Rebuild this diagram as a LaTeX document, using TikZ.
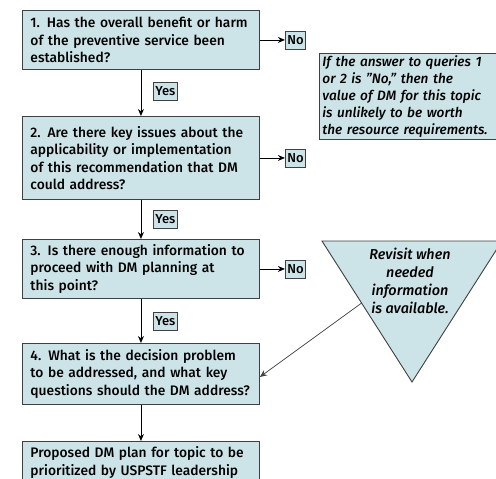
\documentclass[tikz,border=0pt]{standalone}
\usepackage{fontspec}
\setmainfont{Fira Sans Medium}[ItalicFont={Fira Sans Medium Italic}]
\usetikzlibrary{arrows.meta,calc}
\definecolor{boxfill}{HTML}{CCE3E8}
\definecolor{boxline}{HTML}{404040}
\begin{document}
\begin{tikzpicture}[x=1pt,y=-1pt,
  qbox/.style={draw=boxline, fill=boxfill, line width=0.9pt, anchor=north west,
    minimum width=237pt, text width=221pt, align=left, inner xsep=8pt, inner ysep=0pt,
    font=\fontsize{13.8}{17.5}\selectfont},
  lab/.style={draw=boxline, fill=boxfill, line width=0.8pt, inner xsep=2pt, inner ysep=1.5pt,
    minimum height=18pt, font=\fontsize{13}{15}\selectfont},
  arr/.style={draw=black, line width=0.9pt, -{Stealth[length=7pt,width=6pt]}},
  notebox/.style={draw=boxline, fill=boxfill, line width=0.9pt, anchor=north west,
    minimum width=200pt, minimum height=86pt, text width=194pt, align=left,
    inner xsep=3pt, inner ysep=0pt, font=\itshape\fontsize{13.6}{17}\selectfont},
  tribox/.style={draw=boxline, fill=boxfill, line width=0.9pt},
  tritext/.style={align=center, inner sep=0pt, font=\itshape\fontsize{14.4}{18}\selectfont}
]
\useasboundingbox (0,0) rectangle (496,479);
\fill[white] (0,0) rectangle (496,479);

\node[qbox, minimum height=59pt] (q1) at (22,10)
  {1. Has the overall benefit or harm\\of the preventive service been\\established?};
\node[qbox, minimum height=83pt] (q2) at (22,116)
  {2. Are there key issues about the\\applicability or implementation\\of this recommendation that DM\\could address?};
\node[qbox, minimum height=59pt] (q3) at (22,239)
  {3. Is there enough information to\\proceed with DM planning at\\this point?};
\node[qbox, minimum height=61pt] (q4) at (22,343)
  {4. What is the decision problem\\to be addressed, and what key\\questions should the DM address?};
\node[qbox, minimum height=42pt] (q5) at (22,441)
  {Proposed DM plan for topic to be\\prioritized by USPSTF leadership};

\node[lab, anchor=north west] (y1) at (153,82) {Yes};
\node[lab, anchor=north west] (y2) at (153,210) {Yes};
\node[lab, anchor=north west] (y3) at (153,312) {Yes};

\node[lab, anchor=west] (n1) at ([xshift=25pt]q1.east) {No};
\node[lab, anchor=west] (n2) at ([xshift=25pt]q2.east) {No};
\node[lab, anchor=west] (n3) at ([xshift=25pt]q3.east) {No};

\draw[arr] (q1.south) -- (q2.north);
\draw[arr] (q2.south) -- (q3.north);
\draw[arr] (q3.south) -- (q4.north);
\draw[arr] (q4.south) -- (q5.north);
\draw[arr] (q1.east) -- (n1.west);
\draw[arr] (q2.east) -- (n2.west);
\draw[arr] (q3.east) -- (n3.west);

\node[notebox] (note) at (319,53)
  {If the answer to queries 1\\or 2 is \symbol{34}No,\symbol{34} then the\\value of DM for this topic\\is unlikely to be worth\\the resource requirements.};

\coordinate (tl) at (322,241);
\coordinate (tr) at (502,241);
\coordinate (tb) at (412,382);
\draw[tribox] (tl) -- (tr) -- (tb) -- cycle;
\node[tritext] (tri) at (410,281) {Revisit when\\needed\\information\\is available.};
\coordinate (ts) at ($(tl)!0.44!(tb)$);
\draw[draw=boxline, line width=0.7pt, -{Stealth[length=7pt,width=6pt]}] (ts) -- ([yshift=-3pt]q4.east);
\end{tikzpicture}
\end{document}
